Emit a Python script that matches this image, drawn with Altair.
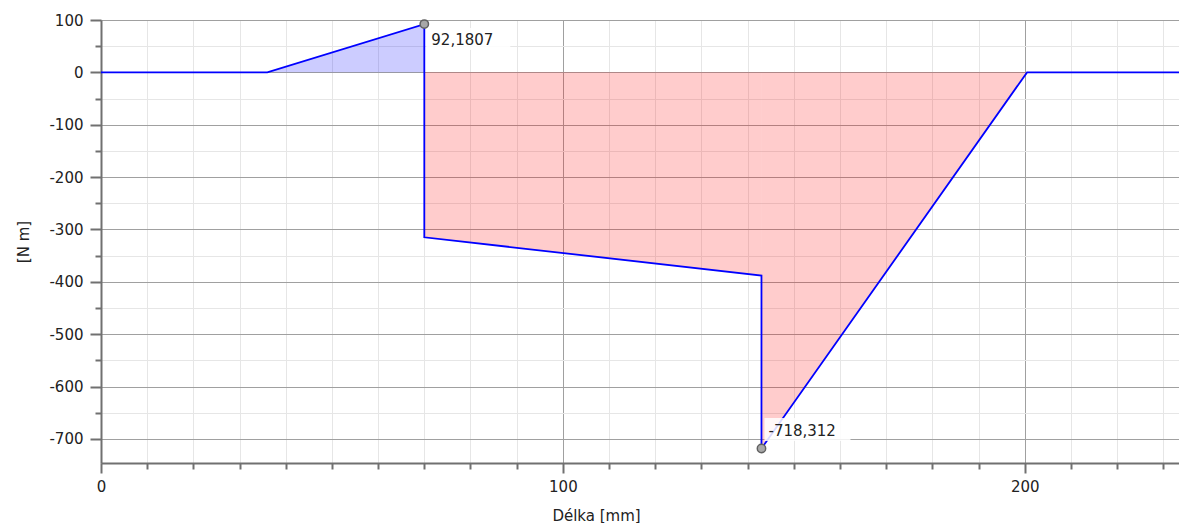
import altair as alt
import pandas as pd

# ---- data ----
line_x = [0, 36, 70, 70, 143, 143, 200.5, 233.4]
line_y = [0, 0, 92.1807, -315, -388, -718.312, 0, 0]

pos_x = [36, 70]
pos_y = [0, 92.1807]

neg_x = [70, 143, 143, 200.5]
neg_y = [-315, -388, -718.312, 0]
neg_seg = ["a", "a", "b", "b"]

peak_x = [70, 143]
peak_y = [92.1807, -718.312]
peak_label = ["92,1807", "-718,312"]

x_domain = [0, 233.4]
y_domain = [-746, 100]
x_ticks = list(range(0, 240, 10))
y_ticks = [-700, -650, -600, -550, -500, -450, -400, -350, -300, -250,
           -200, -150, -100, -50, 0, 50, 100]

FONT = "DejaVu Sans"
TXT = "#222222"
MAJOR = "#a0a0a0"
MINOR = "#e6e6e6"
AXC = "#707070"

line_df = pd.DataFrame({"x": line_x, "y": line_y, "i": list(range(len(line_x)))})
pos_df = pd.DataFrame({"x": pos_x, "y": pos_y})
neg_df = pd.DataFrame({"x": neg_x, "y": neg_y, "seg": neg_seg})
peak_df = pd.DataFrame({"x": peak_x, "y": peak_y, "label": peak_label})

xscale = alt.Scale(domain=x_domain, nice=False, zero=False)
yscale = alt.Scale(domain=y_domain, nice=False, zero=False)

x_axis = alt.Axis(
    values=x_ticks,
    labelExpr="datum.value % 100 === 0 ? '' + datum.value : ''",
    grid=True,
    gridColor=alt.condition("datum.value % 100 === 0", alt.value(MAJOR), alt.value(MINOR)),
    tickSize=alt.condition("datum.value % 100 === 0", alt.value(10), alt.value(6)),
    tickColor=AXC, tickWidth=2, domainColor=AXC, domainWidth=2,
    labelFont=FONT, labelFontSize=15, labelColor=TXT, labelPadding=6,
    labelOverlap=False, labelFlush=False,
    title="Délka [mm]", titleFont=FONT, titleFontSize=15, titleFontWeight="normal",
    titleColor=TXT, titleX=495, titleY=45,
)
y_axis = alt.Axis(
    values=y_ticks,
    labelExpr="datum.value % 100 === 0 ? '' + datum.value : ''",
    grid=True,
    gridColor=alt.condition("datum.value % 100 === 0", alt.value(MAJOR), alt.value(MINOR)),
    tickSize=alt.condition("datum.value % 100 === 0", alt.value(11), alt.value(6)),
    tickColor=AXC, tickWidth=2, domainColor=AXC, domainWidth=2,
    labelFont=FONT, labelFontSize=15, labelColor=TXT, labelPadding=7,
    labelOverlap=False, labelFlush=False,
    title="[N m]", titleFont=FONT, titleFontSize=15, titleFontWeight="normal",
    titleColor=TXT, titlePadding=17,
)

X = alt.X("x:Q", scale=xscale, axis=x_axis)
Y = alt.Y("y:Q", scale=yscale, axis=y_axis)

pos_area = alt.Chart(pos_df).mark_area(color="#0000ff", opacity=0.2).encode(
    x=X, y=Y, y2=alt.datum(0)
)
neg_area = alt.Chart(neg_df).mark_area(color="#ff0000", opacity=0.2).encode(
    x=X, y=Y, y2=alt.datum(0), detail="seg:N"
)
line = alt.Chart(line_df).mark_line(color="#0000ff", strokeWidth=1.8).encode(
    x=X, y=Y, order="i:Q"
)

top = alt.Chart(peak_df).transform_filter("datum.y > 0")
bot = alt.Chart(peak_df).transform_filter("datum.y < 0")

box_top = top.mark_rect(color="white", opacity=0.85, width=84, height=22,
                        xOffset=44, yOffset=15).encode(x=X, y=Y)
box_bot = bot.mark_rect(color="white", opacity=0.85, width=86, height=23,
                        xOffset=46, yOffset=-19).encode(x=X, y=Y)
txt_top = top.mark_text(align="left", baseline="middle", dx=7, dy=16,
                        font=FONT, fontSize=15, color=TXT).encode(x=X, y=Y, text="label:N")
txt_bot = bot.mark_text(align="left", baseline="middle", dx=7, dy=-18,
                        font=FONT, fontSize=15, color=TXT).encode(x=X, y=Y, text="label:N")
pts = alt.Chart(peak_df).mark_point(filled=True, shape="circle", size=70, fill="#a8a8a8",
                                    stroke="#606060", strokeWidth=1.5, opacity=1).encode(x=X, y=Y)

chart = alt.layer(pos_area, neg_area, line, box_top, box_bot, txt_top, txt_bot, pts).properties(
    width=1078, height=443,
    autosize=alt.AutoSizeParams(type="none"),
    padding={"left": 93, "top": 12, "right": 0, "bottom": 60},
).configure_view(stroke=None).configure(background="white")

chart.save("out.html", embed_options={"renderer": "svg", "actions": False})
